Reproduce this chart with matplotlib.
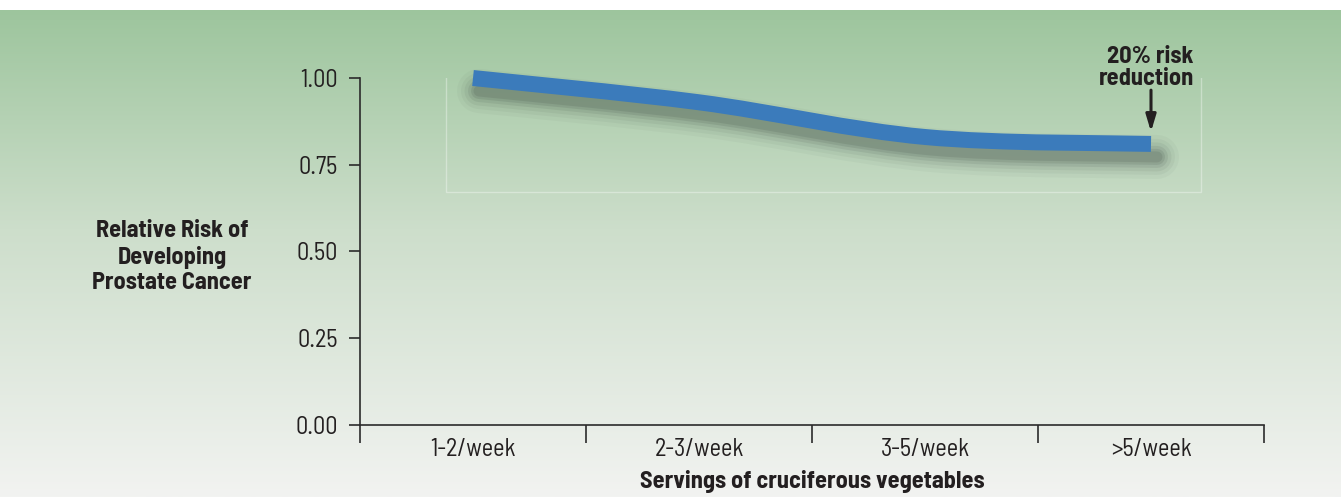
import numpy as np
import matplotlib
matplotlib.use("Agg")
import matplotlib.pyplot as plt
from matplotlib.path import Path
from matplotlib.patches import PathPatch, Rectangle
import matplotlib.transforms as mtransforms

# data
categories = ["1-2/week", "2-3/week", "3-5/week", ">5/week"]
relative_risk = [1.00, 0.93, 0.83, 0.81]
yticks = [0.00, 0.25, 0.50, 0.75, 1.00]

W, H = 1341, 497
fig = plt.figure(figsize=(W / 100, H / 100), dpi=100)
fig.patch.set_facecolor("white")

# green gradient background (below the thin white strip at the top)
bg = fig.add_axes([0, 0, 1, 1 - 10 / H], zorder=-5)
top = np.array([157, 197, 157]) / 255
mid = np.array([205, 222, 203]) / 255
bot = np.array([242, 243, 241]) / 255
t = np.linspace(0, 1, 300)[:, None]
grad = np.where(t < 0.45, top + (mid - top) * (t / 0.45),
                mid + (bot - mid) * ((t - 0.45) / 0.55))
bg.imshow(grad[:, None, :], aspect="auto", extent=[0, 1, 0, 1])
bg.axis("off")

ax = fig.add_axes([360 / W, 72 / H, (1264 - 360) / W, (425 - 78) / H])
ax.patch.set_alpha(0)
ax.set_xlim(0, 4)
ax.set_ylim(0, 1)

txt = "#231f20"
fam = ["Barlow Semi Condensed", "DejaVu Sans"]
fs = 17.5

# smooth curve through the points as cubic bezier segments
xs = np.arange(len(categories)) + 0.5
ys = np.array(relative_risk)
verts = [(xs[0], ys[0])]
codes = [Path.MOVETO]
for i in range(len(xs) - 1):
    p0 = (xs[max(i - 1, 0)], ys[max(i - 1, 0)])
    p1 = (xs[i], ys[i])
    p2 = (xs[i + 1], ys[i + 1])
    p3 = (xs[min(i + 2, len(xs) - 1)], ys[min(i + 2, len(xs) - 1)])
    c1 = (p1[0] + (p2[0] - p0[0]) / 6, p1[1] + (p2[1] - p0[1]) / 6)
    c2 = (p2[0] - (p3[0] - p1[0]) / 6, p2[1] - (p3[1] - p1[1]) / 6)
    verts += [c1, c2, p2]
    codes += [Path.CURVE4] * 3
path = Path(verts, codes)

# soft shadow: stacked translucent strokes shifted down
for lw, a in [(44, 0.04), (36, 0.05), (29, 0.07), (22, 0.10), (16, 0.13), (11, 0.14)]:
    sh = mtransforms.offset_copy(ax.transData, fig=fig, x=6, y=-13, units="dots")
    ax.add_patch(PathPatch(path, facecolor="none", edgecolor="#3a4640",
                           lw=lw * 0.72, alpha=a, transform=sh,
                           capstyle="round", clip_on=False, zorder=2))
ax.add_patch(PathPatch(path, facecolor="none", edgecolor="#3b7bbb",
                       lw=11.5, capstyle="butt", clip_on=False, zorder=3))

# faint frame behind the curve
ax.add_patch(Rectangle((446, H - 192), 1201 - 446, 140, transform=None,
                       fill=False, ec="white", lw=1, alpha=0.35, zorder=1))

# axes styling
for s in ["top", "right"]:
    ax.spines[s].set_visible(False)
for s in ["left", "bottom"]:
    ax.spines[s].set_color("#2b2b2b")
    ax.spines[s].set_linewidth(1.2)
ax.set_yticks(yticks)
ax.set_yticklabels([f"{v:.2f}" for v in yticks], fontsize=fs, color=txt, family=fam)
ax.tick_params(axis="y", direction="out", length=8, width=1.2, color="#2b2b2b", pad=8)
ax.set_xticks(range(len(categories) + 1))
ax.set_xticklabels([])
ax.tick_params(axis="x", which="major", direction="out", length=13, width=1.2, color="#2b2b2b")
ax.set_xticks(xs, minor=True)
ax.set_xticklabels(categories, minor=True, fontsize=fs, color=txt, family=fam)
ax.tick_params(axis="x", which="minor", length=0, pad=9)

ax.set_xlabel("Servings of cruciferous vegetables", fontsize=fs, fontweight="bold",
              color=txt, family=fam, labelpad=7)

fig.text(172 / W, 1 - 257 / H, "Relative Risk of\nDeveloping\nProstate Cancer",
         ha="center", va="center", fontsize=fs, fontweight="bold", color=txt,
         family=fam, linespacing=1.22)

# annotation
ax.annotate("", xy=(xs[-1], ys[-1] + 0.035), xytext=(xs[-1], ys[-1] + 0.155),
            arrowprops=dict(arrowstyle="-|>,head_length=1.0,head_width=0.3",
                            color="#231f20", lw=2.2, shrinkA=0, shrinkB=0),
            annotation_clip=False)
ax.text(3.69, 1.03, "20% risk\nreduction", ha="right", va="center",
        fontsize=fs, fontweight="bold", color=txt, family=fam, linespacing=1.0)

fig.savefig("out.png", dpi=100)
